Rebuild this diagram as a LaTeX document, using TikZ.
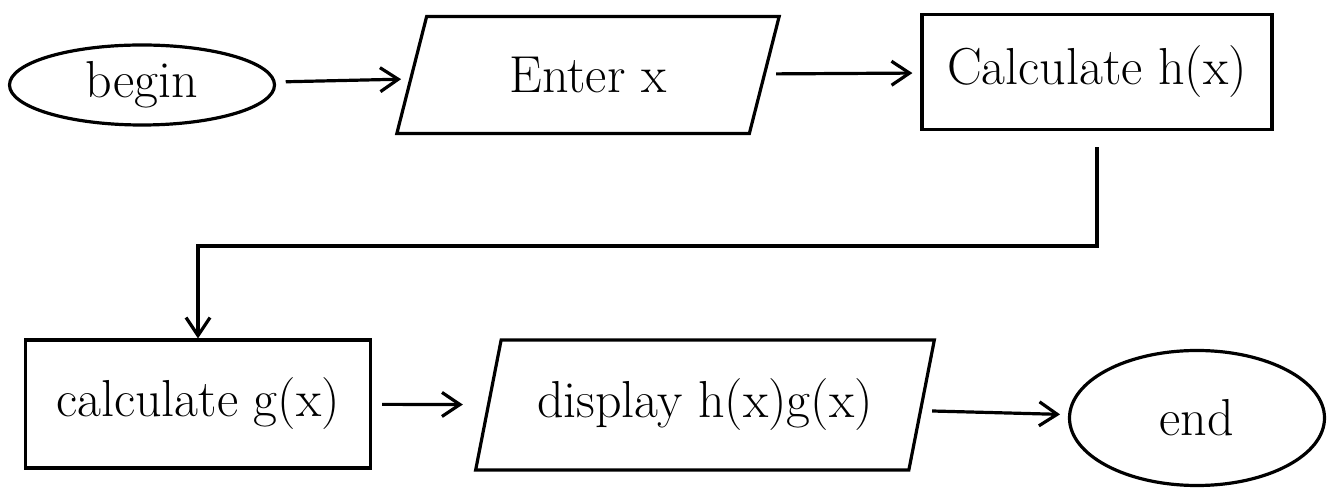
\documentclass[tikz,border=0pt]{standalone}
\usetikzlibrary{shapes.geometric,arrows.meta}
\begin{document}
\begin{tikzpicture}[x=0.5pt,y=-0.5pt,
  every node/.style={font=\fontsize{26}{30}\selectfont, line width=1.6pt},
  terminal/.style={draw, ellipse, inner sep=0pt},
  io/.style={draw, trapezium, trapezium left angle=68, trapezium right angle=112, trapezium stretches=true, inner sep=0pt},
  process/.style={draw, rectangle, inner sep=0pt},
  flow/.style={line width=1.6pt, -{Straight Barb[length=9pt,width=12pt,line width=1.6pt]}, shorten <=5pt, shorten >=4pt}]
\useasboundingbox (0,0) rectangle (1333,501);
\node[terminal, minimum width=132.5pt, minimum height=40pt] (begin) at (142,85) {begin};
\node[io, minimum width=192.5pt, minimum height=58.5pt] (enter) at (588,75) {Enter x};
\node[process, minimum width=175pt, minimum height=57.5pt] (calch) at (1097,72) {Calculate h(x)};
\node[process, minimum width=172.5pt, minimum height=64pt] (calcg) at (198,404) {calculate g(x)};
\node[io, minimum width=230pt, minimum height=65pt] (disp) at (705,405) {display h(x)g(x)};
\node[terminal, minimum width=127.5pt, minimum height=67.5pt] (end) at (1197,418) {end};
\draw[flow] (begin) -- (enter);
\draw[flow] (enter) -- (calch);
\draw[flow, shorten <=8pt, shorten >=0pt] (calch.south) -- ++(0,115) -| (calcg.north);
\draw[flow, shorten >=12pt] (calcg) -- (disp);
\draw[flow] (disp) -- (end);
\end{tikzpicture}
\end{document}
